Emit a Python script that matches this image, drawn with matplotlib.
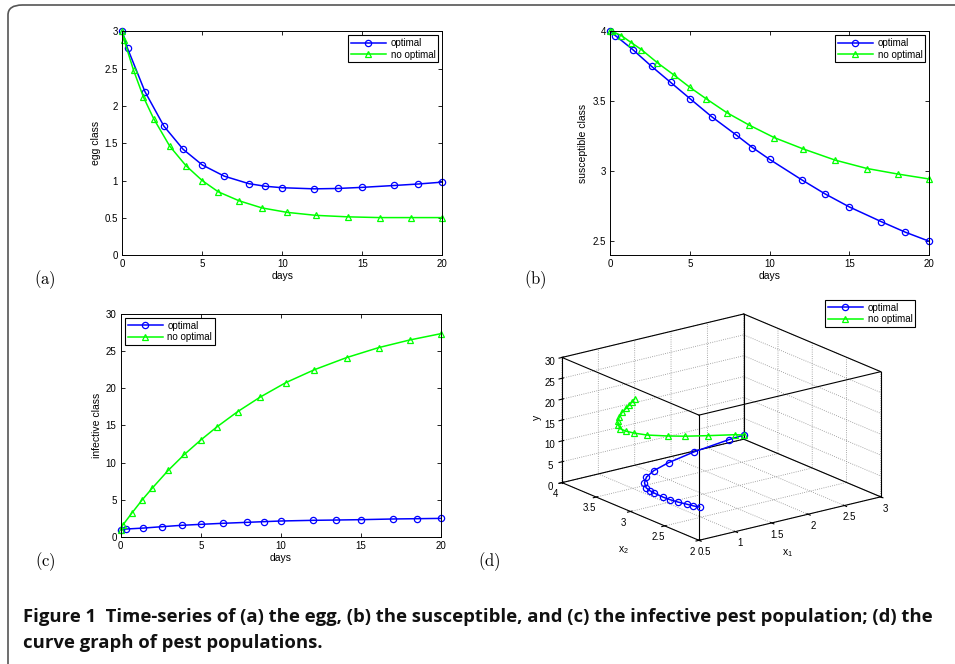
import itertools
import matplotlib
matplotlib.use("Agg")
import matplotlib.pyplot as plt
from matplotlib.ticker import FormatStrFormatter
from matplotlib.patches import FancyBboxPatch
from mpl_toolkits.mplot3d import Axes3D  # noqa

# ---------------- data ----------------
t_opt = [0, 0.33, 1.42, 2.6, 3.8, 5.0, 6.37, 7.9, 8.92, 10.0, 12.0, 13.45, 15.0, 17.0, 18.5, 20.0]
t_noopt = [0, 0.12, 0.7, 1.32, 1.96, 2.97, 3.98, 5.0, 6.0, 7.3, 8.72, 10.3, 12.1, 14.1, 16.1, 18.05, 20.0]

egg_opt = [3.0, 2.77, 2.19, 1.73, 1.42, 1.21, 1.06, 0.96, 0.925, 0.905, 0.89, 0.895, 0.91, 0.935, 0.955, 0.98]
egg_noopt = [3.0, 2.88, 2.48, 2.12, 1.83, 1.46, 1.20, 1.0, 0.85, 0.73, 0.635, 0.575, 0.535, 0.515, 0.505, 0.505, 0.505]

sus_opt = [4.0, 3.97, 3.87, 3.75, 3.635, 3.52, 3.39, 3.26, 3.17, 3.085, 2.94, 2.84, 2.745, 2.64, 2.565, 2.50]
sus_noopt = [4.0, 4.0, 3.97, 3.92, 3.87, 3.775, 3.69, 3.60, 3.52, 3.42, 3.33, 3.24, 3.16, 3.08, 3.02, 2.98, 2.945]

inf_opt = [1.0, 1.07, 1.2, 1.39, 1.57, 1.70, 1.84, 1.97, 2.06, 2.15, 2.24, 2.28, 2.33, 2.42, 2.46, 2.50]
inf_noopt = [1.0, 1.57, 3.22, 4.93, 6.54, 8.96, 11.1, 13.03, 14.78, 16.84, 18.81, 20.73, 22.48, 24.1, 25.44, 26.47, 27.32]

series_labels = ["optimal", "no optimal"]
caption_line1 = ("Figure 1  Time-series of (a) the egg, (b) the susceptible, and (c) the infective "
                 "pest population; (d) the")
caption_line2 = "curve graph of pest populations."

# ---------------- style ----------------
W, H = 955, 664
plt.rcParams["font.family"] = ["Liberation Sans", "DejaVu Sans"]
plt.rcParams["mathtext.default"] = "regular"
plt.rcParams["mathtext.fontset"] = "cm"
FS = 7
BLUE = (0, 0, 1)
GREEN = (0, 1, 0)

fig = plt.figure(figsize=(W / 100, H / 100), dpi=100)


def px_rect(x0, y0, x1, y1):
    return [x0 / W, 1 - y1 / H, (x1 - x0) / W, (y1 - y0) / H]


def style_2d(ax, ylim, yticks, ylabel):
    ax.set_xlim(0, 20)
    ax.set_ylim(*ylim)
    ax.set_xticks([0, 5, 10, 15, 20])
    ax.set_yticks(yticks)
    ax.yaxis.set_major_formatter(FormatStrFormatter("%g"))
    ax.tick_params(direction="in", length=3, width=0.6, labelsize=FS, top=True, right=True, pad=3)
    for s in ax.spines.values():
        s.set_linewidth(0.7)
    ax.set_xlabel("days", fontsize=FS + 0.5, labelpad=1)
    ax.set_ylabel(ylabel, fontsize=FS + 0.5, labelpad=3)


def plot_pair(ax, yo, yn):
    ax.plot(t_opt, yo, color=BLUE, lw=1.1, marker="o", ms=4.5, mfc="none", mew=0.9,
            label=series_labels[0], clip_on=False)
    ax.plot(t_noopt, yn, color=GREEN, lw=1.1, marker="^", ms=4.5, mfc="none", mew=0.9,
            label=series_labels[1], clip_on=False)


def legend(ax_or_fig, *args, **kw):
    lg = ax_or_fig.legend(*args, fontsize=FS, frameon=True, fancybox=False, edgecolor="black",
                          framealpha=1, borderpad=0.3, labelspacing=0.15, handlelength=3.6,
                          handletextpad=0.5, borderaxespad=0.4, **kw)
    lg.get_frame().set_linewidth(0.8)
    return lg


# (a) egg
ax_a = fig.add_axes(px_rect(122.3, 31.3, 442.3, 255.3))
plot_pair(ax_a, egg_opt, egg_noopt)
style_2d(ax_a, (0, 3), [0, 0.5, 1, 1.5, 2, 2.5, 3], "egg class")
legend(ax_a, loc="upper right")

# (b) susceptible
ax_b = fig.add_axes(px_rect(610, 31.3, 929.3, 255.3))
plot_pair(ax_b, sus_opt, sus_noopt)
style_2d(ax_b, (2.4, 4), [2.5, 3, 3.5, 4], "susceptible class")
legend(ax_b, loc="upper right")

# (c) infective
ax_c = fig.add_axes(px_rect(120.7, 313.7, 441, 537))
plot_pair(ax_c, inf_opt, inf_noopt)
style_2d(ax_c, (0, 30), [0, 5, 10, 15, 20, 25, 30], "infective class")
legend(ax_c, loc="upper left")

# (d) 3-D curve
ax_d = fig.add_axes(px_rect(515, 288.5, 920, 573.5), projection="3d")
ax_d.set_proj_type("ortho")
ax_d.view_init(elev=18.5, azim=-127.0)
ax_d.set_box_aspect((1, 1, 0.58), zoom=1.185)
xl, yl, zl = (0.5, 3), (2, 4), (0, 30)
ax_d.set_xlim(*xl)
ax_d.set_ylim(*yl)
ax_d.set_zlim(*zl)
# bounding box edges
corners = list(itertools.product(xl, yl, zl))
for p, q in itertools.combinations(corners, 2):
    if sum(a != b for a, b in zip(p, q)) == 1:
        ax_d.plot(*zip(p, q), color="black", lw=0.8, clip_on=False)
h1, = ax_d.plot(egg_opt, sus_opt, inf_opt, color=BLUE, lw=1.1, marker="o", ms=4.5, mfc="none",
                mew=0.9, label=series_labels[0], clip_on=False)
h2, = ax_d.plot(egg_noopt, sus_noopt, inf_noopt, color=GREEN, lw=1.1, marker="^", ms=4.5,
                mfc="none", mew=0.9, label=series_labels[1], clip_on=False)
ax_d.set_xticks([0.5, 1, 1.5, 2, 2.5, 3])
ax_d.set_yticks([2, 2.5, 3, 3.5, 4])
ax_d.set_zticks([0, 5, 10, 15, 20, 25, 30])
for axis in (ax_d.xaxis, ax_d.yaxis, ax_d.zaxis):
    axis.set_pane_color((1, 1, 1, 0))
    axis.pane.set_edgecolor("none")
    axis.line.set_color("none")
    axis._axinfo["grid"].update({"linestyle": ":", "color": "0.55", "linewidth": 0.6})
    axis.set_major_formatter(FormatStrFormatter("%g"))
ax_d.tick_params(labelsize=FS, pad=-4)
ax_d.zaxis.set_tick_params(pad=-4)
# axis titles of the 3-D panel, placed as in the reference
fig.text(788 / W, 1 - 553 / H, "x$_1$", fontsize=FS + 0.5, ha="center", va="center")
fig.text(623 / W, 1 - 550 / H, "x$_2$", fontsize=FS + 0.5, ha="center", va="center")
fig.text(537 / W, 1 - 417 / H, "y", fontsize=FS + 0.5, ha="center", va="center", rotation=90)
legend(fig, [h1, h2], series_labels, loc="upper left", bbox_to_anchor=(821 / W, 1 - 296 / H),
       bbox_transform=fig.transFigure)

# panel labels
for lab, (x, y) in zip(["(a)", "(b)", "(c)", "(d)"], [(45, 280), (535, 280), (45, 562), (489, 562)]):
    fig.text(x / W, 1 - y / H, r"$\mathrm{%s}$" % lab, fontsize=12, ha="center", va="center")

# caption (font size fitted to the reference line width)
cap_kw = dict(fontsize=12, fontweight="bold", family=["Open Sans", "DejaVu Sans"], ha="left",
              va="baseline", color="#111111")
c1 = fig.text(23 / W, 1 - 622 / H, caption_line1, **cap_kw)
c2 = fig.text(23 / W, 1 - 648 / H, caption_line2, **cap_kw)
renderer = fig.canvas.get_renderer()
w1 = c1.get_window_extent(renderer).width
fs_fit = 12 * 905.0 / w1
c1.set_fontsize(fs_fit)
c2.set_fontsize(fs_fit)

# outer rounded frame
frame = FancyBboxPatch((8 / W, -20 / H), 1.2, (H - 5 + 20) / H, boxstyle="round,pad=0,rounding_size=0.015",
                       transform=fig.transFigure, fill=False, edgecolor="#555555", lw=1.2, clip_on=True)
fig.patches.append(frame)

fig.savefig("out.png", dpi=100)
